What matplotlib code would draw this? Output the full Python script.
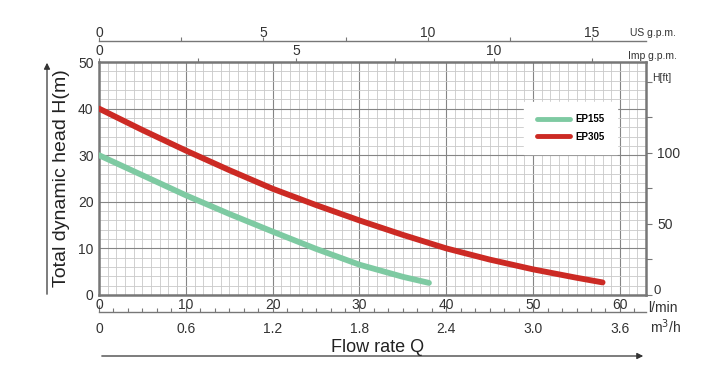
import numpy as np
import matplotlib
matplotlib.use('Agg')
import matplotlib.pyplot as plt
from matplotlib.ticker import MultipleLocator, FixedLocator

plt.rcParams['font.family'] = ['Liberation Sans Narrow', 'Liberation Sans', 'DejaVu Sans']

## Curve data (flow in l/min, head in m)
q_ep155 = [0, 5, 10, 15, 20, 25, 30, 35, 38]
h_ep155 = [30, 25.7, 21.4, 17.4, 13.6, 9.9, 6.5, 3.9, 2.6]
q_ep305 = [0, 5, 10, 15, 20, 25, 30, 35, 40, 45, 50, 55, 58]
h_ep305 = [40, 35.4, 31.0, 26.8, 22.8, 19.3, 16.0, 12.9, 10.0, 7.6, 5.5, 3.7, 2.7]
names = ['EP155', 'EP305']
colors = ['#7ecaa2', '#cc2a24']

lpm_ticks = [0, 10, 20, 30, 40, 50, 60]
head_ticks = [0, 10, 20, 30, 40, 50]
m3h_ticks = [0, 0.6, 1.2, 1.8, 2.4, 3.0, 3.6]
m3h_labels = ['0', '0.6', '1.2', '1.8', '2.4', '3.0', '3.6']
us_ticks = [0, 5, 10, 15]
imp_ticks = [0, 5, 10]
ft_ticks = [0, 50, 100]
ft_labels = ['', '50', '100']   # the 0 is drawn a bit higher, above "l/min"

W, H = 723, 368
fig = plt.figure(figsize=(W/100, H/100), dpi=100)
L, R, T, B = 99, 646, 62, 295
ax = fig.add_axes([L/W, 1-B/H, (R-L)/W, (B-T)/H])

ax.set_xlim(0, 63)
ax.set_ylim(0, 50)
gray = '#777777'
txt = '#333333'

# grid
ax.xaxis.set_minor_locator(MultipleLocator(1))
ax.yaxis.set_minor_locator(MultipleLocator(2))
ax.set_xticks(lpm_ticks)
ax.set_yticks(head_ticks)
ax.grid(which='minor', color='#c9c9c9', lw=0.6, zorder=0)
ax.grid(which='major', color='#858585', lw=0.8, zorder=0)
ax.set_axisbelow(True)
ax.tick_params(which='both', length=0, labelsize=10, colors=txt)
ax.tick_params(axis='x', pad=2)
ax.tick_params(axis='y', pad=4)
for s in ax.spines.values():
    s.set_color(gray)
    s.set_linewidth(1.8)

# curves
ax.plot(q_ep155, h_ep155, color=colors[0], lw=4.2, solid_capstyle='round', label=names[0], zorder=3)
ax.plot(q_ep305, h_ep305, color=colors[1], lw=4.2, solid_capstyle='round', label=names[1], zorder=3)

leg = ax.legend(loc='upper left', bbox_to_anchor=(0.777, 0.83), frameon=True,
                fancybox=False, framealpha=1, facecolor='white', edgecolor='white',
                prop={'weight': 'bold', 'size': 7}, handlelength=3.4, handletextpad=0.6,
                labelspacing=0.75, borderpad=1.3, borderaxespad=0)
for lh in leg.get_lines():
    lh.set_linewidth(3.5)

# right axis in feet
axr = ax.twinx()
axr.set_ylim(0, 50/0.3048)
axr.set_yticks(ft_ticks)
axr.set_yticklabels(ft_labels)
axr.yaxis.set_minor_locator(FixedLocator([25, 75, 125, 150]))
axr.tick_params(which='both', direction='out', length=4, width=0.8, labelsize=10, colors=txt, pad=4)
axr.tick_params(which='both', color=gray)
for s in axr.spines.values():
    s.set_visible(False)
fig.text(654/W, 1-290.5/H, '0', fontsize=9.5, color=txt, va='center')
fig.text(652/W, 1-78/H, 'H[ft]', fontsize=7.5, color=txt, va='center')

# Imp g.p.m. on the top spine
imp = ax.secondary_xaxis('top', functions=(lambda q: q/4.54609, lambda g: g*4.54609))
imp.set_xticks(imp_ticks)
imp.xaxis.set_minor_locator(FixedLocator([2.5, 7.5, 12.5]))
imp.tick_params(which='both', direction='out', length=3, width=0.8, labelsize=10, colors=txt, pad=0)
imp.tick_params(which='both', color=gray)
imp.spines['top'].set_visible(False)
fig.text(628/W, 1-56/H, 'Imp g.p.m.', fontsize=7.5, color=txt, va='center')

# US g.p.m. on a line above
us = ax.secondary_xaxis(1 + 21/(B-T), functions=(lambda q: q/3.78541, lambda g: g*3.78541))
us.set_xticks(us_ticks)
us.xaxis.set_minor_locator(FixedLocator([2.5, 7.5, 12.5]))
us.tick_params(which='both', direction='out', length=3, width=0.8, labelsize=10, colors=txt, pad=-2)
us.tick_params(which='both', color=gray)
us.spines['top'].set_color(gray)
us.spines['top'].set_linewidth(1)
fig.text(630/W, 1-33/H, 'US g.p.m.', fontsize=7.5, color=txt, va='center')

# m3/h on a line below
m3 = ax.secondary_xaxis(-17/(B-T), functions=(lambda q: q*0.06, lambda v: v/0.06))
m3.set_xticks(m3h_ticks)
m3.set_xticklabels(m3h_labels)
m3.xaxis.set_minor_locator(MultipleLocator(0.1))
m3.tick_params(which='major', direction='in', length=5, width=0.8, labelsize=10, colors=txt, pad=7.5)
m3.tick_params(which='minor', direction='in', length=3, width=0.8)
m3.tick_params(which='both', color=gray)
m3.spines['bottom'].set_color(gray)
m3.spines['bottom'].set_linewidth(1)

fig.text(648/W, 1-307.5/H, 'l/min', fontsize=10, color=txt, va='center')
fig.text(650/W, 1-327/H, 'm$^3$/h', fontsize=10, color=txt, va='center')

# axis titles with arrows
fig.text(378/W, 1-348/H, 'Flow rate Q', fontsize=13, color='#222222', ha='center', va='center')
fig.text(61/W, 1-178/H, 'Total dynamic head H(m)', fontsize=14, color='#222222',
         ha='center', va='center', rotation=90)
fig.add_artist(matplotlib.patches.FancyArrowPatch((99/W, 1-356/H), (646/W, 1-356/H),
               transform=fig.transFigure, arrowstyle='-|>', mutation_scale=9, color='#333333', lw=0.9))
fig.add_artist(matplotlib.patches.FancyArrowPatch((47/W, 1-297/H), (47/W, 1-60/H),
               transform=fig.transFigure, arrowstyle='-|>', mutation_scale=9, color='#333333', lw=0.9))

plt.savefig('out.png', dpi=100)
